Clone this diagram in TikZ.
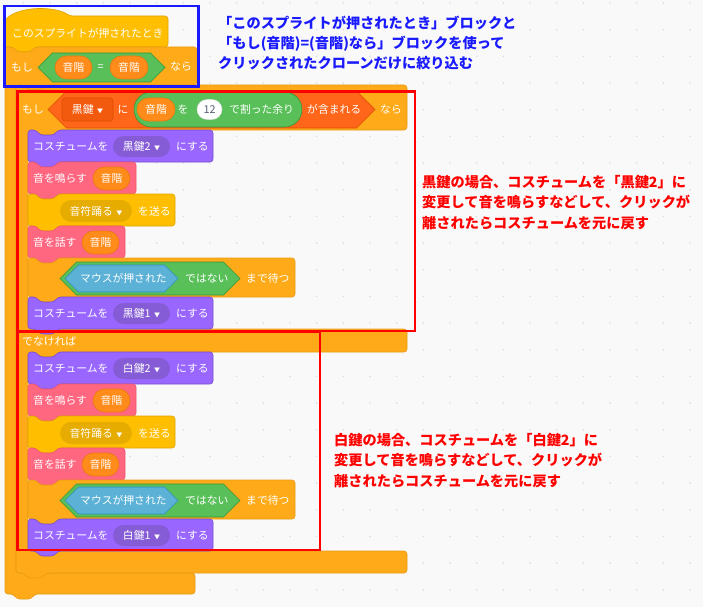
\documentclass[tikz,border=0pt]{standalone}
\usepackage{fontspec}
\newfontfamily\jp{Noto Sans CJK JP}
\usetikzlibrary{shapes.misc, positioning}
\definecolor{canvas}{HTML}{F9F9F9}
\definecolor{griddot}{HTML}{DEDEDE}
\definecolor{looks}{HTML}{9966FF}
\definecolor{looksdk}{HTML}{855CD6}
\definecolor{looksln}{HTML}{774DCB}
\definecolor{pinkc}{HTML}{FF6680}
\definecolor{pinkln}{HTML}{F0566F}
\definecolor{events}{HTML}{FFBF00}
\definecolor{eventsdk}{HTML}{E6AC00}
\definecolor{eventsln}{HTML}{DDA500}
\definecolor{control}{HTML}{FFAB19}
\definecolor{controlln}{HTML}{E89A14}
\definecolor{oper}{HTML}{59C059}
\definecolor{operln}{HTML}{389438}
\definecolor{sensing}{HTML}{5CB1D6}
\definecolor{sensingln}{HTML}{2E8EB8}
\definecolor{vars}{HTML}{FF8C1A}
\definecolor{varsln}{HTML}{E67A10}
\definecolor{lists}{HTML}{FF661A}
\definecolor{listsdk}{HTML}{F25A0E}
\definecolor{listsln}{HTML}{D94D00}
\definecolor{numtxt}{HTML}{575E75}
\definecolor{notered}{HTML}{FF0000}
\definecolor{noteblue}{HTML}{1A1AFF}
\newcommand{\blkfont}{\jp\fontsize{10.8}{12}\selectfont}
\newcommand{\stackpath}[4]{(#1,#2) -- ++(8,0) -- ++(4,5) -- ++(14,0) -- ++(4,-5) -- ({#1+#3},{#2}) -- ({#1+#3},{#2+#4}) -- ({#1+30},{#2+#4}) -- ++(-4,5) -- ++(-14,0) -- ++(-4,-5) -- ({#1},{#2+#4}) -- cycle}
\newcommand{\hexpath}[4]{({#1},{((#2)+(#4))/2}) -- ({(#1)+((#4)-(#2))/2},{#2}) -- ({(#3)-((#4)-(#2))/2},{#2}) -- ({#3},{((#2)+(#4))/2}) -- ({(#3)-((#4)-(#2))/2},{#4}) -- ({(#1)+((#4)-(#2))/2},{#4}) -- cycle}
\begin{document}
\begin{tikzpicture}[x=1pt, y=-1pt]
  \tikzstyle{looksblk}=[fill=looks, draw=looksln, line width=0.6pt, rounded corners=3pt]
  \tikzstyle{pinkblk}=[fill=pinkc, draw=pinkln, line width=0.6pt, rounded corners=3pt]
  \tikzstyle{eventblk}=[fill=events, draw=eventsln, line width=0.6pt, rounded corners=3pt]
  \tikzstyle{ctrlblk}=[fill=control, draw=controlln, line width=0.6pt, rounded corners=3pt]
  \tikzstyle{operhex}=[fill=oper, draw=operln, line width=0.6pt]
  \tikzstyle{senshex}=[fill=sensing, draw=sensingln, line width=0.6pt]
  \tikzstyle{listhex}=[fill=lists, draw=listsln, line width=0.6pt]
  \tikzstyle{txt}=[text=white, font=\blkfont, inner sep=0pt, anchor=west]
  \tikzstyle{reporter}=[rounded rectangle, fill=vars, draw=varsln, line width=0.6pt,
                        text=white, font=\blkfont, inner sep=0pt, minimum height=23pt]
  \tikzstyle{menu}=[rounded rectangle, inner sep=0pt, minimum height=21pt,
                    text=white, font=\blkfont]
  \tikzstyle{note}=[font=\jp\bfseries\fontsize{14.2}{16}\selectfont, inner sep=0pt, anchor=west]
  \tikzstyle{markbox}=[line width=2.6pt]
  \newcommand{\dropmark}{\hspace{3.5pt}{\fontsize{6}{6}\selectfont ▼}}
  % canvas and grid dots
  \fill[canvas] (0,0) rectangle (703,607);
  \useasboundingbox (0,0) rectangle (703,607);
  \foreach \i in {0,...,25}
    \foreach \j in {0,...,22}
      \fill[griddot] (23.3+26.67*\i, 3+26.67*\j) circle (0.9);
  % hat block
  \path[eventblk] (5,47) -- (5,20) .. controls (20,6) and (55,6) .. (70,16) -- (168,16)
    -- (168,47) -- (35,47) -- (31,52) -- (17,52) -- (13,47) -- cycle;
  \node[txt] (hattxt) at (12,33) {このスプライトが押されたとき};
  % outer if
  \path[ctrlblk] (5,47) -- (13,47) -- (17,52) -- (31,52) -- (35,47) -- (197,47) -- (197,85)
    -- (46,85) -- (42,90) -- (28,90) -- (24,85) -- (16,85) -- (16,573) -- (195,573)
    -- (195,594) -- (35,594) -- (31,599) -- (17,599) -- (13,594) -- (5,594) -- cycle;
  \node[txt] (ifout) at (11,67) {もし};
  \path[operhex] \hexpath{38}{53}{165}{82};
  \node[reporter, minimum width=37pt] (pitchL) at (73.5,67.5) {音階};
  \node[txt, anchor=center] (eqsign) at (100.5,67.5) {=};
  \node[reporter, minimum width=38pt] (pitchR) at (129,67.5) {音階};
  \node[txt] (thenout) at (170,67) {なら};
  % if-else
  \path[ctrlblk] (16,85) -- (24,85) -- (28,90) -- (42,90) -- (46,85) -- (407,85) -- (407,130)
    -- (58,130) -- (54,135) -- (40,135) -- (36,130) -- (28,130) -- (28,329) -- (407,329)
    -- (407,352) -- (58,352) -- (54,357) -- (40,357) -- (36,352) -- (28,352) -- (28,551)
    -- (407,551) -- (407,573) -- (46,573) -- (42,578) -- (28,578) -- (24,573) -- (16,573) -- cycle;
  \node[txt] (ifin) at (22,109) {もし};
  \path[listhex] \hexpath{48}{91}{375}{128};
  \node[rectangle, rounded corners=3pt, fill=listsdk, draw=listsln, line width=0.6pt,
        minimum width=51pt, minimum height=23pt, inner sep=0pt, text=white, font=\blkfont]
        (keylist) at (87.5,109.5) {黒鍵\dropmark};
  \node[txt, anchor=center] (ni) at (123,109.5) {に};
  \node[rounded rectangle, fill=oper, draw=operln, line width=0.6pt, inner sep=0pt,
        minimum width=168pt, minimum height=35pt] (modop) at (218,109.5) {};
  \node[reporter, minimum width=38pt] (pitchM) at (156,109.5) {音階};
  \node[txt, anchor=center] (wo) at (183,109.5) {を};
  \node[rounded rectangle, fill=white, draw=black!15, line width=0.4pt, inner sep=0pt,
        minimum width=25pt, minimum height=20pt, text=numtxt, font=\blkfont]
        (twelve) at (209.5,109.5) {12};
  \node[txt] (modtxt) at (229,109.5) {で割った余り};
  \node[txt] (contains) at (307,109.5) {が含まれる};
  \node[txt] (thenin) at (380,109.5) {なら};
  \node[txt] (elsetxt) at (22,341) {でなければ};
  % both branches
  \foreach \s/\key in {0/黒鍵, 222/白鍵} {
    \path[looksblk] \stackpath{28}{130+\s}{185}{32};
    \node[txt] (costA\s) at (33,146.5+\s) {コスチュームを};
    \node[menu, fill=looksdk, minimum width=57pt] (menuA\s) at (141.5,146.5+\s) {\key 2\dropmark};
    \node[txt] (setA\s) at (176,146.5+\s) {にする};
    \path[pinkblk] \stackpath{28}{162+\s}{108}{32};
    \node[txt] (play\s) at (33,178.5+\s) {音を鳴らす};
    \node[reporter, minimum width=37pt] (pitchP\s) at (111.5,178.5+\s) {音階};
    \path[eventblk] \stackpath{28}{194+\s}{147}{32};
    \node[menu, fill=eventsdk, minimum width=72pt, minimum height=22pt] (bcast\s) at (96,211+\s) {音符踊る\dropmark};
    \node[txt] (send\s) at (138,211+\s) {を送る};
    \path[pinkblk] \stackpath{28}{226+\s}{97}{32};
    \node[txt] (say\s) at (33,242.5+\s) {音を話す};
    \node[reporter, minimum width=37pt] (pitchS\s) at (100.5,242.5+\s) {音階};
    \path[ctrlblk] \stackpath{28}{258+\s}{267}{39};
    \path[operhex] \hexpath{60}{262+\s}{240}{295+\s};
    \path[senshex] \hexpath{65}{265+\s}{178}{292+\s};
    \node[txt] (mouse\s) at (80,278.5+\s) {マウスが押された};
    \node[txt] (nott\s) at (185,278.5+\s) {ではない};
    \node[txt] (wait\s) at (246,278.5+\s) {まで待つ};
    \path[looksblk] \stackpath{28}{297+\s}{185}{32};
    \node[txt] (costB\s) at (33,313.5+\s) {コスチュームを};
    \node[menu, fill=looksdk, minimum width=57pt] (menuB\s) at (141.5,313.5+\s) {\key 1\dropmark};
    \node[txt] (setB\s) at (176,313.5+\s) {にする};
  }
  % marking boxes
  \draw[markbox, draw=noteblue] (4.5,6) rectangle (198.5,86.5);
  \draw[markbox, draw=notered] (17.5,91.5) rectangle (415,331);
  \draw[markbox, draw=notered] (17.5,332) rectangle (320,550);
  % notes
  \node[note, text=noteblue] (blue1) at (218,23.5) {「このスプライトが押されたとき」ブロックと};
  \node[note, text=noteblue] (blue2) at (218,43.5) {「もし(音階)=(音階)なら」ブロックを使って};
  \node[note, text=noteblue] (blue3) at (218,63.5) {クリックされたクローンだけに絞り込む};
  \node[note, text=notered] (red1) at (422,182) {黒鍵の場合、コスチュームを「黒鍵2」に};
  \node[note, text=notered] (red2) at (422,202.5) {変更して音を鳴らすなどして、クリックが};
  \node[note, text=notered] (red3) at (422,223) {離されたらコスチュームを元に戻す};
  \node[note, text=notered] (red4) at (334,440) {白鍵の場合、コスチュームを「白鍵2」に};
  \node[note, text=notered] (red5) at (334,460.5) {変更して音を鳴らすなどして、クリックが};
  \node[note, text=notered] (red6) at (334,481) {離されたらコスチュームを元に戻す};
\end{tikzpicture}
\end{document}
